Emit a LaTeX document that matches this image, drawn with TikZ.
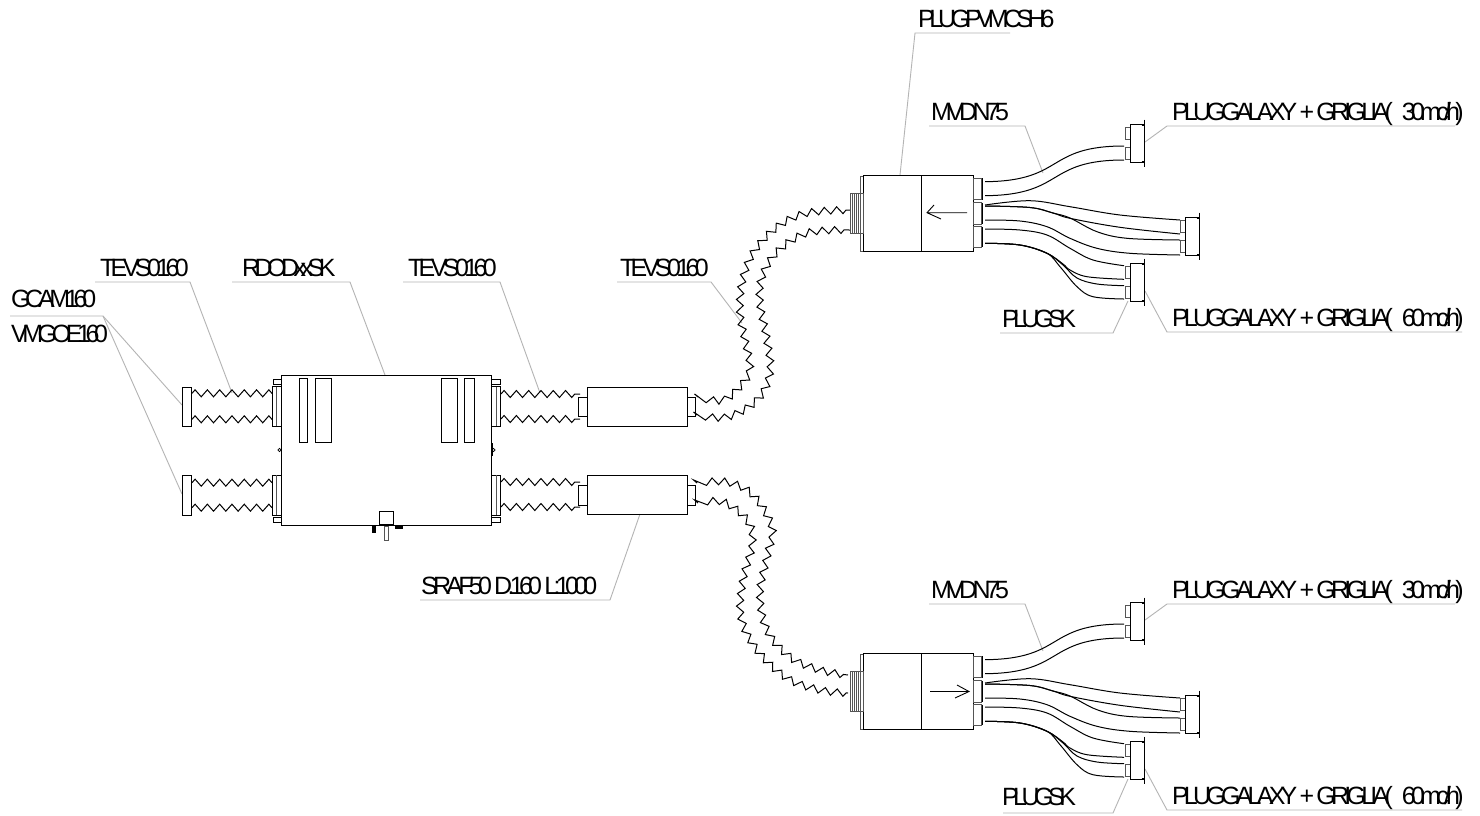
\documentclass[tikz,border=0pt]{standalone}
\usepackage{fontspec}
\setmainfont{Liberation Sans}
\usetikzlibrary{decorations.pathmorphing}
\definecolor{leadgray}{HTML}{B4B4B4}
\definecolor{partgray}{HTML}{555555}
\tikzset{
  x=1pt,y=-1pt,
  part/.style={draw=black,line width=0.9pt,line join=miter},
  thinpart/.style={draw=partgray,line width=0.8pt},
  leader/.style={draw=leadgray,line width=0.9pt},
  lbl/.style={anchor=base west,inner sep=0pt,outer sep=0pt,text=black,
    font=\fontsize{25}{25}\selectfont\addfontfeature{LetterSpace=#1}},
  bellow/.style={draw=black,line width=1pt,decorate,decoration={zigzag,segment length=12.3pt,amplitude=3.5pt}},
  flex/.style={draw=black,line width=1pt},
  pics/terminal/.style={code={
    \draw[thinpart] (-5,3.3) rectangle (0,15);
    \draw[thinpart] (-5,23.5) rectangle (0,35);
    \draw[part] (0,0) rectangle (14,38.7);
    \draw[part] (11.5,1.2) -- (14,1.2) (11.5,37.5) -- (14,37.5);
    \draw[part] (14,-4.5) -- (14,43);
  }},
  pics/plenumbody/.style={code={
    \draw[thinpart] (860,176) rectangle (863,251);
    \draw[part] (863,175.7) rectangle (973,251);
    \draw[part] (921.7,175.7) -- (921.7,251);
    \draw[thinpart] (850,193.5) rectangle (863,233);
    \draw[thinpart] (852.5,193.5) -- (852.5,233) (854.5,193.5) -- (854.5,233) (856.5,193.5) -- (856.5,233) (858.5,193.5) -- (858.5,233);
    \foreach \a/\b in {178/199.5,202.5/224,226.5/247}{
      \draw[thinpart] (973,\a) rectangle (981,\b);
      \draw[draw=black,line width=1.5pt] (982.5,\a) -- (982.5,\b);
    }
    % flexible pipes
    \draw[flex] (985,181.7) .. controls (1065,181) and (1045,146) .. (1124,146);
    \draw[flex] (985,195.7) .. controls (1065,195) and (1045,160) .. (1124,160);
    \draw[flex] plot[smooth,tension=0.6] coordinates {(985,205) (1030,200.7) (1070,206.7) (1120,215) (1180,220)};
    \draw[flex] plot[smooth,tension=0.6] coordinates {(985,206) (1030,207.5) (1053,213) (1070,218.3) (1120,227.3) (1180,234)};
    \draw[flex] plot[smooth,tension=0.6] coordinates {(985,206) (1030,207.5) (1053,213) (1070,218) (1097,231.7) (1127,238.3) (1180,240)};
    \draw[flex] plot[smooth,tension=0.6] coordinates {(985,220) (1020,221) (1047,226.7) (1070,238.3) (1097,248.3) (1130,253.3) (1180,255)};
    \draw[flex] plot[smooth,tension=0.6] coordinates {(985,229) (1020,230) (1047,235) (1070,248.3) (1093,260) (1124,265.7)};
    \draw[flex] plot[smooth,tension=0.6] coordinates {(985,243.3) (1020,245) (1047,253.3) (1063,264) (1070,270) (1087,276.7) (1124,279.3)};
    \draw[flex] plot[smooth,tension=0.6] coordinates {(985,243.3) (1020,245) (1047,253.3) (1063,265) (1077,278) (1097,284) (1124,285.7)};
    \draw[flex] plot[smooth,tension=0.6] coordinates {(985,243.3) (1020,245) (1047,253.3) (1060,266.7) (1077,286.7) (1093,296.7) (1124,299)};
    \pic at (1130,124) {terminal};
    \pic at (1185,217) {terminal};
    \pic at (1130,263) {terminal};
  }}
}
\begin{document}
\begin{tikzpicture}
\path[use as bounding box,fill=white] (0,0) rectangle (1480,815);

% ---------- leader lines ----------
\coordinate (a1) at (95,282);   \coordinate (a2) at (190,282);  \coordinate (a3) at (232,393);
\coordinate (b1) at (232,282);  \coordinate (b2) at (350,282);  \coordinate (b3) at (385,375);
\coordinate (c1) at (10,316);   \coordinate (c2) at (103,316);  \coordinate (c3) at (182,405); \coordinate (c4) at (182,494);
\coordinate (d1) at (403,282);  \coordinate (d2) at (500,282);  \coordinate (d3) at (540,393);
\coordinate (e1) at (617,282);  \coordinate (e2) at (711,282);  \coordinate (e3) at (742,323);
\coordinate (f1) at (1010,33);  \coordinate (f2) at (915,33);   \coordinate (f3) at (900,175);
\coordinate (g1) at (929,126);  \coordinate (g2) at (1025,126); \coordinate (g3) at (1043,173);
\coordinate (h1) at (1455,126); \coordinate (h2) at (1167,126); \coordinate (h3) at (1145,142);
\coordinate (i1) at (1462,332); \coordinate (i2) at (1167,332); \coordinate (i3) at (1145,291);
\coordinate (j1) at (1000,333); \coordinate (j2) at (1113,333); \coordinate (j3) at (1128,301);
\coordinate (k1) at (420,600);  \coordinate (k2) at (610,600);  \coordinate (k3) at (640,514);
\coordinate (l1) at (929,604);  \coordinate (l2) at (1025,604); \coordinate (l3) at (1043,651);
\coordinate (m1) at (1455,604); \coordinate (m2) at (1167,604); \coordinate (m3) at (1145,620);
\coordinate (n1) at (1462,810); \coordinate (n2) at (1167,810); \coordinate (n3) at (1145,769);
\coordinate (o1) at (1003,813); \coordinate (o2) at (1113,813); \coordinate (o3) at (1128,779);
\draw[leader] (a1) -- (a2) -- (a3);
\draw[leader] (b1) -- (b2) -- (b3);
\draw[leader] (c1) -- (c2) -- (c3);
\draw[leader] (c2) -- (c4);
\draw[leader] (d1) -- (d2) -- (d3);
\draw[leader] (e1) -- (e2) -- (e3);
\draw[leader] (f1) -- (f2) -- (f3);
\draw[leader] (g1) -- (g2) -- (g3);
\draw[leader] (h1) -- (h2) -- (h3);
\draw[leader] (i1) -- (i2) -- (i3);
\draw[leader] (j1) -- (j2) -- (j3);
\draw[leader] (k1) -- (k2) -- (k3);
\draw[leader] (l1) -- (l2) -- (l3);
\draw[leader] (m1) -- (m2) -- (m3);
\draw[leader] (n1) -- (n2) -- (n3);
\draw[leader] (o1) -- (o2) -- (o3);

% ---------- labels ----------
\node[lbl=-18.3] (t1) at (100,276) {TEVS0160};
\node[lbl=-22] (t2) at (242,276) {RDODxxSK};
\node[lbl=-21] (t3) at (11,307) {GCAM160};
\node[lbl=-21.6] (t4) at (11,342.7) {VMGOE160};
\node[lbl=-18.3] (t5) at (408,276) {TEVS0160};
\node[lbl=-18.3] (t6) at (620,276) {TEVS0160};
\node[lbl=-21] (t7) at (918,27) {PLUGPVMCSH6};
\node[lbl=-18.7] (t8) at (931,120) {MVDN75};
\node[lbl=-19] (t9) at (1172,120) {PLUGGALAXY + GRIGLIA(\hspace{9pt}30mc/h)};
\node[lbl=-19] (t10) at (1172,326) {PLUGGALAXY + GRIGLIA(\hspace{9pt}60mc/h)};
\node[lbl=-22] (t11) at (1002,327) {PLUGSK};
\node[lbl=-18.8] (t12) at (421,594) {SRAF50 D.160 L:1000};
\node[lbl=-18.7] (t13) at (931,598) {MVDN75};
\node[lbl=-19] (t14) at (1172,598) {PLUGGALAXY + GRIGLIA(\hspace{9pt}30mc/h)};
\node[lbl=-19] (t15) at (1172,804) {PLUGGALAXY + GRIGLIA(\hspace{9pt}60mc/h)};
\node[lbl=-22] (t16) at (1002,805) {PLUGSK};

% ---------- central unit ----------
\draw[part,line width=1.1pt] (281.3,375.3) rectangle (491.7,525.7);
\draw[part] (299,378.3) rectangle (307.7,442);
\draw[part] (315.7,378.3) rectangle (331.3,442);
\draw[part] (441.7,378.3) rectangle (457,442);
\draw[part] (464.7,378.3) rectangle (474,442);
% collars
\draw[part] (272,386.7) rectangle (281.3,426);
\draw[thinpart] (276,386.7) -- (276,426);
\draw[part] (272,475.3) rectangle (281.3,515);
\draw[thinpart] (276,475.3) -- (276,515);
\draw[part] (491.7,386.7) rectangle (500.7,426);
\draw[thinpart] (496.7,386.7) -- (496.7,426);
\draw[part] (491.7,475.3) rectangle (500.7,515);
\draw[thinpart] (496.7,475.3) -- (496.7,515);
% clips
\draw[part] (281.3,379.3) -- (273.3,379.3) -- (273.3,384) -- (281,384);
\draw[part] (491.7,379.3) -- (500,379.3) -- (500,384) -- (492,384);
\draw[part] (281.3,517.3) -- (273.3,517.3) -- (273.3,522.3) -- (281,522.3);
\draw[part] (491.7,517.3) -- (500,517.3) -- (500,522.3) -- (492,522.3);
% lugs
\draw[part,line width=0.7pt] (279.5,450) circle (1.7);
\draw[part,line width=0.7pt] (493.5,450) circle (1.7);
\draw[draw=black,line width=1.6pt] (281.3,443) -- (281.3,456);
\draw[draw=black,line width=1.6pt] (491.7,443) -- (491.7,456);
% controls
\draw[part] (379.3,511.7) rectangle (393.3,524);
\draw[thinpart] (384.3,526) rectangle (388.3,540);
\fill[black] (372.3,526) rectangle (375.7,533);
\fill[black] (395,526) rectangle (402.7,528.7);
\draw[draw=black,line width=1.5pt] (330,525.7) -- (356.7,525.7);

% ---------- end grilles ----------
\draw[part] (182,387) rectangle (191.7,426.3);
\draw[part] (182,475.7) rectangle (191.7,515);

% ---------- straight bellows ----------
\coordinate (s1) at (192,393.3);  \coordinate (s2) at (272,393.3);
\coordinate (s3) at (192,419.3);  \coordinate (s4) at (272,419.3);
\coordinate (s5) at (192,482.7);  \coordinate (s6) at (272,482.7);
\coordinate (s7) at (192,507.7);  \coordinate (s8) at (272,507.7);
\coordinate (r1) at (501,394);    \coordinate (r2) at (580,394);
\coordinate (r3) at (501,419);    \coordinate (r4) at (580,419);
\coordinate (r5) at (501,482);    \coordinate (r6) at (580,482);
\coordinate (r7) at (501,507);    \coordinate (r8) at (580,507);
\foreach \p/\q in {s1/s2,s3/s4,s5/s6,s7/s8,r1/r2,r3/r4,r5/r6,r7/r8}
  \draw[bellow] (\p) -- (\q);

% ---------- silencers ----------
\draw[part] (587,387) rectangle (687,426);
\draw[part] (587,475.3) rectangle (687,514.3);
\draw[part] (578,397) rectangle (587,416);
\draw[part] (578,485) rectangle (587,505);
\draw[part] (687,397) rectangle (695,416);
\draw[part] (687,485) rectangle (695,505);

% ---------- curved bellows ----------
\draw[bellow] plot[smooth,tension=0.6] coordinates {(698,397) (723,400) (743,383) (750,367) (745,340) (740,313) (742,283) (753,253) (777,227) (807,213) (850,210)};
\draw[bellow] plot[smooth,tension=0.6] coordinates {(697,415) (727,417) (757,400) (770,373) (767,340) (760,303) (762,277) (777,252) (807,233) (850,230)};
\draw[bellow] plot[smooth,tension=0.6] coordinates {(697,483) (727,482) (753,495) (772,527) (768,553) (760,593) (767,630) (790,657) (820,670) (848,675)};
\draw[bellow] plot[smooth,tension=0.6] coordinates {(698,503) (723,502) (747,520) (752.5,543) (743,580) (741,617) (757,650) (787,678) (820,690) (848,693)};

% ---------- plenums with pipes and terminals ----------
\pic at (0,0) {plenumbody};
\pic at (0,478) {plenumbody};
\coordinate (u1) at (967,212.7); \coordinate (u2) at (927,212.7);
\coordinate (v1) at (930,691.5); \coordinate (v2) at (969,691.5);
\draw[part] (u1) -- (u2) (934,205) -- (u2) -- (941,219);
\draw[part] (v1) -- (v2) (957,685) -- (v2) -- (955,698);
\end{tikzpicture}
\end{document}
